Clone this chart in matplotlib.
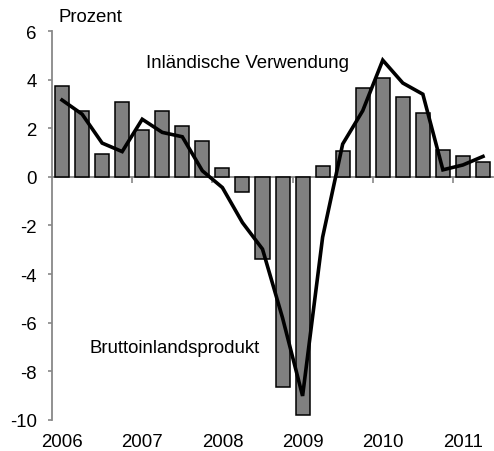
import matplotlib.pyplot as plt
from matplotlib.transforms import blended_transform_factory

plt.rcParams["font.family"] = ["Liberation Sans", "DejaVu Sans"]
plt.rcParams["axes.unicode_minus"] = False

# Quarterly values 2006Q1 - 2011Q2, percent
quarters = [f"{y}Q{q}" for y in range(2006, 2012) for q in range(1, 5)][:22]
bip = [3.75, 2.72, 0.93, 3.10, 1.93, 2.69, 2.10, 1.47,
       0.36, -0.64, -3.39, -8.64, -9.78, 0.45, 1.06, 3.66,
       4.07, 3.29, 2.63, 1.10, 0.84, 0.62]
inl_verw = [3.16, 2.58, 1.39, 1.04, 2.37, 1.83, 1.65, 0.25,
            -0.44, -1.88, -2.97, -5.8, -9.01, -2.48, 1.35, 2.72,
            4.80, 3.86, 3.40, 0.29, 0.49, 0.84]
year_labels = ["2006", "2007", "2008", "2009", "2010", "2011"]

fig = plt.figure(figsize=(4.94, 4.52), dpi=100)
ax = fig.add_axes([0.1053, 0.0686, 0.8927, 0.8606])

x = list(range(len(quarters)))
ax.bar(x, bip, width=0.7, color="#808080", edgecolor="black", linewidth=1.1, zorder=2)
ax.plot(x, inl_verw, color="black", lw=2.6, zorder=3, solid_joinstyle="miter")

ax.set_xlim(-0.5, len(quarters) - 0.5)
ax.set_ylim(-10, 6)
ax.set_yticks(range(-10, 7, 2))

for s in ("top", "right"):
    ax.spines[s].set_visible(False)
ax.spines["bottom"].set_position(("data", 0))
ax.spines["left"].set_color("#888888")
ax.spines["bottom"].set_color("#888888")
ax.spines["left"].set_linewidth(1.3)
ax.spines["bottom"].set_linewidth(1.3)
ax.spines["bottom"].set_zorder(1)

ax.set_xticks([3.5, 7.5, 11.5, 15.5, 19.5])
ax.set_xticklabels([])
ax.tick_params(axis="x", direction="out", length=4, width=1.2, color="#888888")
ax.tick_params(axis="y", direction="out", length=3, width=1.2, color="#888888",
               labelsize=13.4, pad=8)

trans = blended_transform_factory(ax.transData, ax.transAxes)
for i, lab in enumerate(year_labels):
    ax.text(i * 4, -0.033, lab, transform=trans, ha="center", va="top", fontsize=13.4)

fig.text(58 / 494, 1 - 18 / 452, "Prozent", ha="left", va="center", fontsize=13.4)
ax.text(4.2, 4.7, "Inländische Verwendung", ha="left", va="center", fontsize=13.4)
ax.text(1.35, -7.0, "Bruttoinlandsprodukt", ha="left", va="center", fontsize=13.4)

fig.savefig("out.png", dpi=100)
